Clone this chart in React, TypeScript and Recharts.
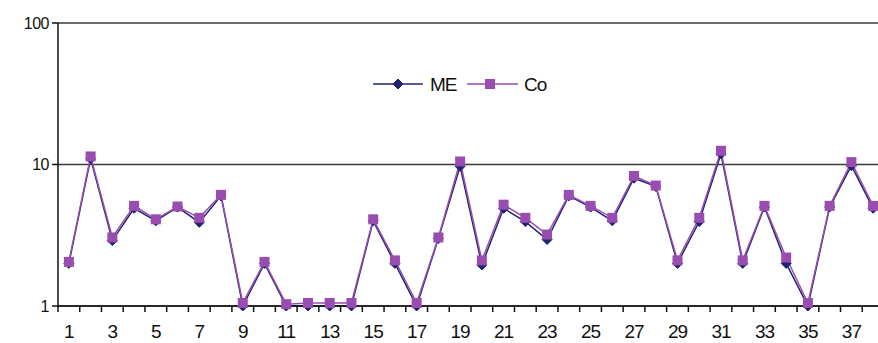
import React from 'react';
import { LineChart, Line, XAxis, YAxis, CartesianGrid } from 'recharts';

const categories = Array.from({ length: 38 }, (_, i) => i + 1);

const meValues = [
  2, 11, 2.9, 4.9, 4, 5, 3.9, 6, 1, 2, 1, 1, 1, 1, 4, 2, 1, 3, 9.7, 1.95,
  4.9, 3.95, 2.95, 6, 5, 4, 8, 7, 2, 3.95, 11.9, 2, 5, 2, 1, 5, 9.8, 4.9,
];

const coValues = [
  2.05, 11.4, 3.05, 5.1, 4.1, 5.05, 4.2, 6.1, 1.05, 2.05, 1.03, 1.05, 1.05, 1.05, 4.1, 2.1, 1.05, 3.05, 10.5, 2.1,
  5.2, 4.2, 3.2, 6.1, 5.1, 4.2, 8.3, 7.1, 2.1, 4.2, 12.5, 2.1, 5.1, 2.2, 1.05, 5.1, 10.4, 5.1,
];

const yTicks = [1, 10, 100];

const ME_COLOR = '#1f2470';
const CO_COLOR = '#9a4db0';
const FONT = '"Liberation Sans", Arial, sans-serif';

const data = categories.map((c, i) => ({ n: c, me: meValues[i], co: coValues[i] }));

const CHART_W = 884;
const Y_AXIS_W = 58;
const BAND = (CHART_W - Y_AXIS_W) / categories.length;

const Diamond = (props: any) => {
  const { cx, cy } = props;
  if (cx == null || cy == null) return null;
  const r = 5;
  return (
    <path
      d={`M${cx},${cy - r} L${cx + r},${cy} L${cx},${cy + r} L${cx - r},${cy} Z`}
      fill={ME_COLOR}
      stroke={ME_COLOR}
    />
  );
};

const Square = (props: any) => {
  const { cx, cy } = props;
  if (cx == null || cy == null) return null;
  return <rect x={cx - 5} y={cy - 5} width={10} height={10} fill={CO_COLOR} />;
};

// tick marks sit between categories, labels only on odd numbers
const XTick = (props: any) => {
  const { x, y, payload } = props;
  const v = payload.value as number;
  return (
    <g>
      <line x1={x - BAND / 2} x2={x - BAND / 2} y1={y} y2={y + 6} stroke="#111" strokeWidth={1.5} />
      {v % 2 === 1 && (
        <text x={x} y={y + 32} textAnchor="middle" fontSize={19} fontFamily={FONT} fill="#111" letterSpacing={-1}>
          {v}
        </text>
      )}
    </g>
  );
};

const LegendBox = () => (
  <svg width={200} height={28}>
    <line x1={0} x2={50} y1={13} y2={13} stroke={ME_COLOR} strokeWidth={1.5} />
    <Diamond cx={25} cy={13} />
    <text x={57} y={20} fontSize={19} fontFamily={FONT} fill="#111" letterSpacing={-1}>ME</text>
    <line x1={94} x2={145} y1={13} y2={13} stroke={CO_COLOR} strokeWidth={1.5} />
    <Square cx={117} cy={13} />
    <text x={151} y={20} fontSize={19} fontFamily={FONT} fill="#111" letterSpacing={-1}>Co</text>
  </svg>
);

export default function App() {
  return (
    <div style={{ position: 'absolute', left: 0, top: 0, width: 878, height: 343, overflow: 'hidden', background: '#fff' }}>
      <LineChart width={CHART_W} height={343} data={data} margin={{ top: 23, right: 0, bottom: 0, left: 0 }}>
        <CartesianGrid vertical={false} stroke="#3a3a3a" strokeWidth={1.5} />
        <XAxis
          dataKey="n"
          type="number"
          domain={[0.5, 38.5]}
          ticks={categories}
          interval={0}
          height={37}
          tickSize={0}
          tickMargin={0}
          tick={<XTick />}
          axisLine={{ stroke: '#111', strokeWidth: 1.5 }}
          tickLine={false}
        />
        <YAxis
          scale="log"
          domain={[1, 100]}
          ticks={yTicks}
          width={Y_AXIS_W}
          tickSize={6}
          tickMargin={3}
          axisLine={{ stroke: '#111', strokeWidth: 1.5 }}
          tickLine={{ stroke: '#111', strokeWidth: 1.5 }}
          tick={{ fontSize: 16, fontFamily: FONT, fill: '#111', letterSpacing: -0.5 }}
        />
        <Line
          dataKey="me"
          name="ME"
          stroke={ME_COLOR}
          strokeWidth={1.5}
          dot={<Diamond />}
          isAnimationActive={false}
        />
        <Line
          dataKey="co"
          name="Co"
          stroke={CO_COLOR}
          strokeWidth={1.5}
          dot={<Square />}
          isAnimationActive={false}
        />
      </LineChart>
      <div style={{ position: 'absolute', left: 373, top: 71 }}>
        <LegendBox />
      </div>
    </div>
  );
}
